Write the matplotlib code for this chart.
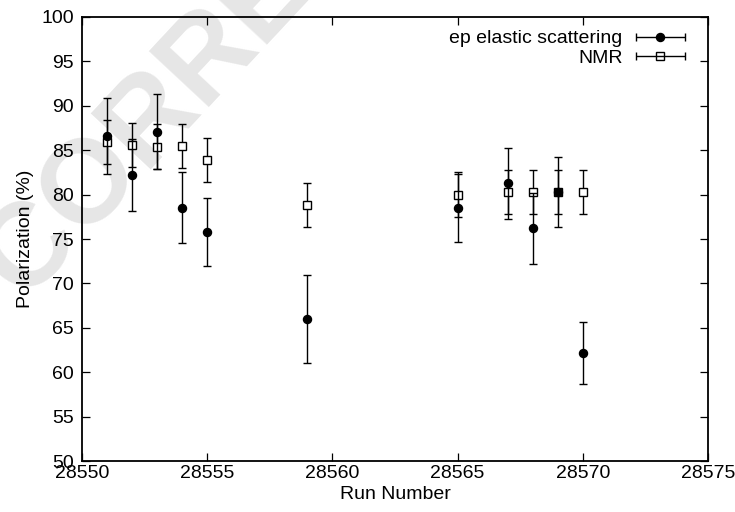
import numpy as np
import matplotlib
matplotlib.use('Agg')
import matplotlib.pyplot as plt
from matplotlib.lines import Line2D
from matplotlib.collections import LineCollection
from matplotlib.container import ErrorbarContainer
from matplotlib.legend_handler import HandlerErrorbar

# ep elastic scattering
run_ep = [28551, 28552, 28553, 28554, 28555, 28559, 28565, 28567, 28568, 28569, 28570]
pol_ep = [86.6, 82.2, 87.1, 78.5, 75.8, 66.0, 78.5, 81.3, 76.2, 80.3, 62.2]
err_ep = [4.3, 4.1, 4.2, 4.0, 3.8, 5.0, 3.8, 4.0, 4.0, 3.9, 3.5]

# NMR
run_nmr = [28551, 28552, 28553, 28554, 28555, 28559, 28565, 28567, 28568, 28569, 28570]
pol_nmr = [85.9, 85.6, 85.4, 85.5, 83.9, 78.8, 80.0, 80.3, 80.3, 80.3, 80.3]
err_nmr = [2.5, 2.5, 2.5, 2.5, 2.5, 2.5, 2.5, 2.5, 2.5, 2.5, 2.5]

x_ticks = [28550, 28555, 28560, 28565, 28570, 28575]
y_ticks = [50, 55, 60, 65, 70, 75, 80, 85, 90, 95, 100]

plt.rcParams['font.family'] = ['Liberation Sans', 'DejaVu Sans']
fs = 14
cap = 2.9

fig = plt.figure(figsize=(7.35, 5.12), dpi=100)
ax = fig.add_axes([0.1116, 0.0996, 0.8517, 0.8672])
ax.patch.set_alpha(0)
ax.set_zorder(2)

# watermark behind the plot
fig.text(0.035, 0.405, 'CORRECTED PROOF', rotation=47, rotation_mode='anchor',
         fontsize=85, fontweight='bold', color='#e6e6e6',
         ha='left', va='baseline', zorder=0)

ax.errorbar(run_nmr, pol_nmr, yerr=err_nmr, fmt='s', ms=6.1, mfc='white', mec='black',
            mew=1.0, ecolor='black', elinewidth=1.0, capsize=cap, capthick=1.0, zorder=3)
ax.errorbar(run_ep, pol_ep, yerr=err_ep, fmt='o', ms=5.8, mfc='black', mec='black',
            ecolor='black', elinewidth=1.0, capsize=cap, capthick=1.0, zorder=4)

ax.set_xlim(28550, 28575)
ax.set_ylim(50, 100)
ax.set_xticks(x_ticks, labels=[str(t) for t in x_ticks])
ax.set_yticks(y_ticks, labels=[str(t) for t in y_ticks])
ax.tick_params(direction='in', length=5.8, width=0.9, top=True, right=True,
               labelsize=fs, color='black')
ax.tick_params(axis='x', pad=3.0)
ax.tick_params(axis='y', pad=6)
for s in ax.spines.values():
    s.set_linewidth(1.3)

ax.set_xlabel('Run Number', fontsize=fs, labelpad=3)
ax.set_ylabel('Polarization (%)', fontsize=fs, labelpad=5)

# gnuplot style legend: horizontal bar with caps
def proxy(marker, ms, mfc, label):
    ln = Line2D([], [], ls='none', marker=marker, ms=ms, mfc=mfc, mec='black', mew=1.0)
    cl = Line2D([], [], ls='none', marker='|', ms=2 * cap, mec='black', mew=1.0)
    bar = LineCollection([], colors='black', linewidths=1.0)
    return ErrorbarContainer((ln, (cl, cl), (bar,)), has_xerr=True, has_yerr=False, label=label)

h1 = proxy('o', 5.8, 'black', 'ep elastic scattering')
h2 = proxy('s', 6.1, 'none', 'NMR')
hlen = 2.57
ax.legend([h1, h2], ['ep elastic scattering', 'NMR'], loc='upper right',
          bbox_to_anchor=(0.9633, 0.971), frameon=False, markerfirst=False,
          fontsize=fs, handlelength=hlen, handletextpad=0.65, labelspacing=0.1,
          borderpad=0, borderaxespad=0,
          handler_map={ErrorbarContainer: HandlerErrorbar(xerr_size=hlen / 2 * 0.98)})

fig.savefig('out.png', dpi=100)
